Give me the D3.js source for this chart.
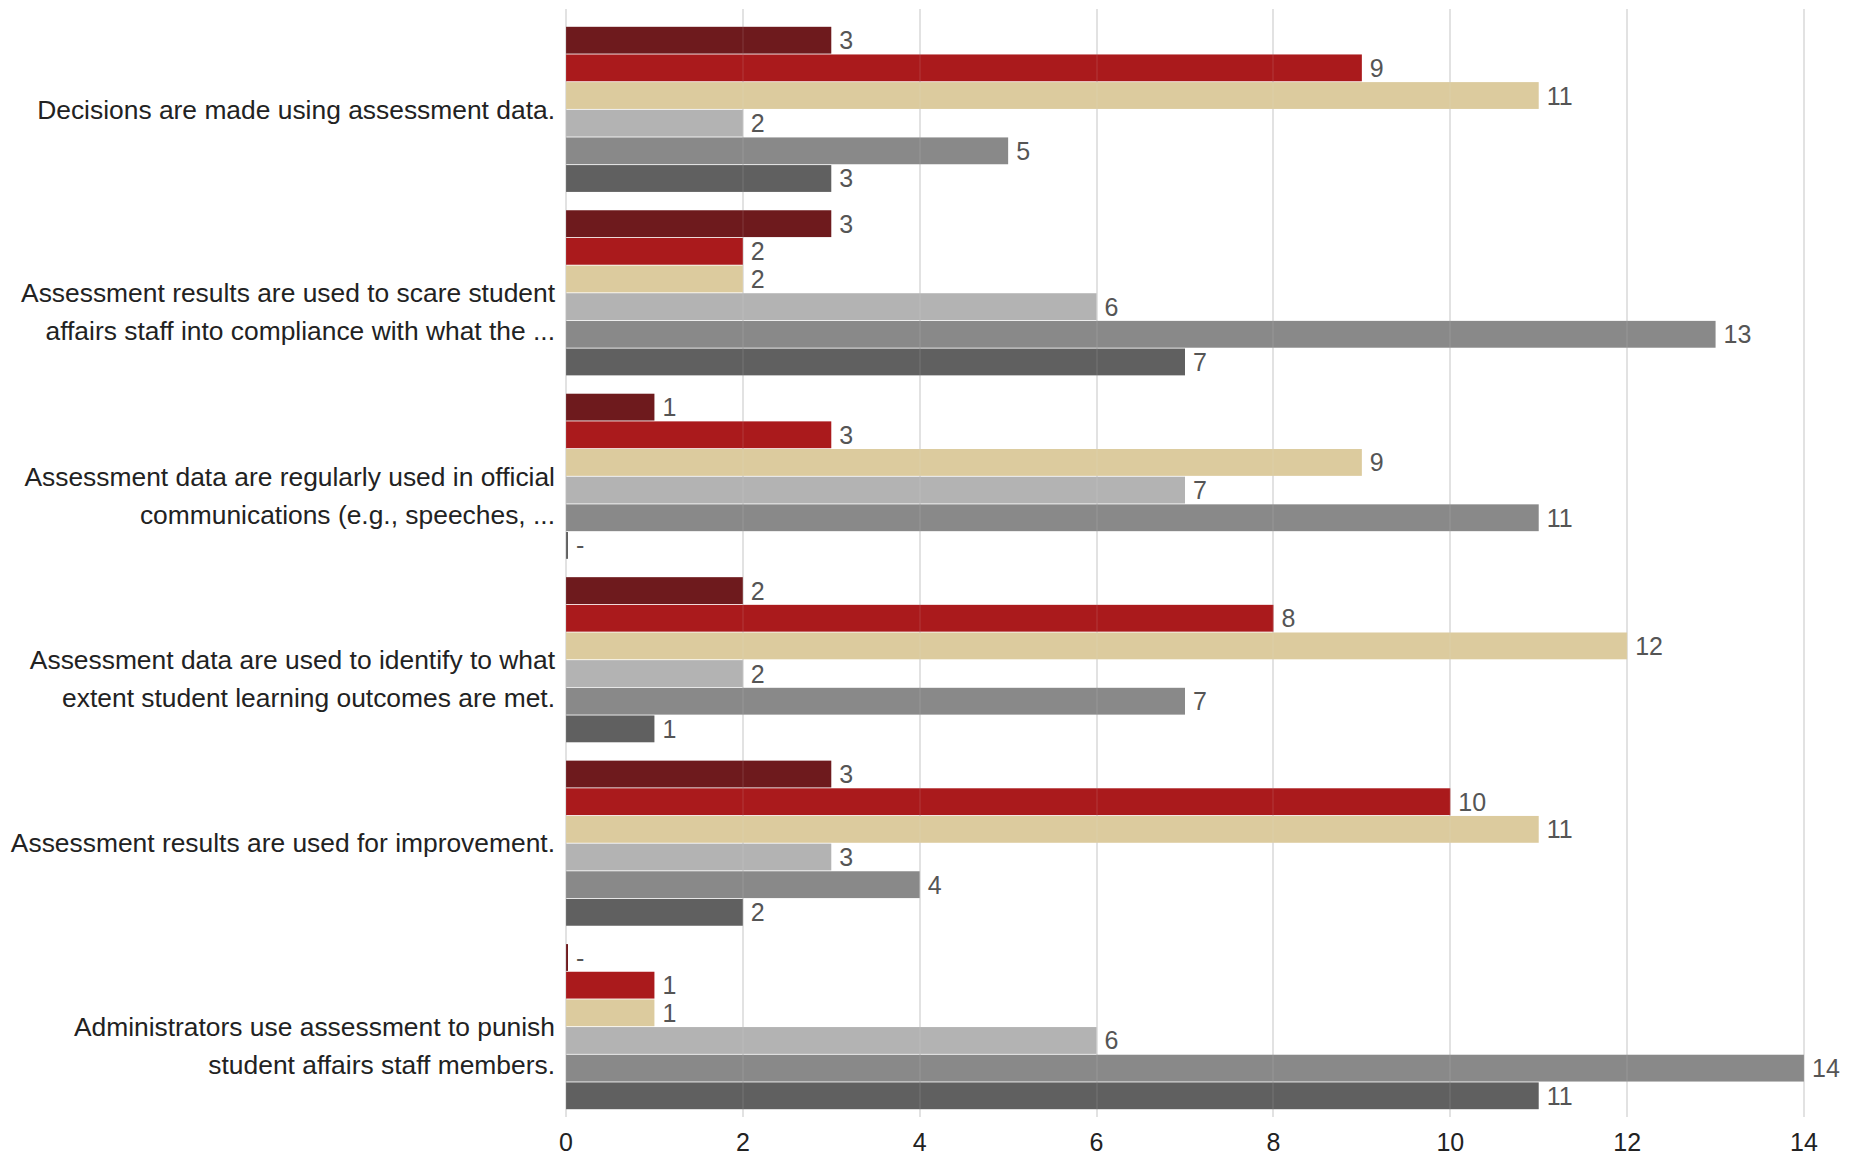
<!DOCTYPE html>
<html lang="en">
  <head>
    <meta charset="UTF-8" />
    <style>
      body {
        margin: 0;
        background: #fff;
      }
      svg {
        font-family: "Liberation Sans", Arial, sans-serif;
      }
      .grid line {
        stroke: #e2e2e2;
        stroke-width: 2;
        shape-rendering: crispEdges;
      }
      .grid-over line {
        stroke: rgba(226, 226, 226, 0.08);
        stroke-width: 2;
        shape-rendering: crispEdges;
      }
      .cat-label {
        font-size: 26.4px;
        fill: #222;
      }
      .val-label {
        font-size: 25px;
        fill: #555;
      }
      .tick-label {
        font-size: 25px;
        fill: #222;
      }
    </style>
    <script src="https://d3js.org/d3.v7.min.js"></script>
    <title>Assessment chart</title>
  </head>
  <body>
    <script>
      // categories, top to bottom (\n marks the line break used in the picture)
      var categories = [
        "Decisions are made using assessment data.",
        "Assessment results are used to scare student\naffairs staff into compliance with what the ...",
        "Assessment data are regularly used in official\ncommunications (e.g., speeches, ...",
        "Assessment data are used to identify to what\nextent student learning outcomes are met.",
        "Assessment results are used for improvement.",
        "Administrators use assessment to punish\nstudent affairs staff members."
      ];

      // one array per response series, same order as categories
      var series1 = [3, 3, 1, 2, 3, 0];
      var series2 = [9, 2, 3, 8, 10, 1];
      var series3 = [11, 2, 9, 12, 11, 1];
      var series4 = [2, 6, 7, 2, 3, 6];
      var series5 = [5, 13, 11, 7, 4, 14];
      var series6 = [3, 7, 0, 1, 2, 11];

      var xTicks = [0, 2, 4, 6, 8, 10, 12, 14];

      var seriesList = [series1, series2, series3, series4, series5, series6];
      var colors = ["#6e1a1d", "#aa1a1c", "#dccb9e", "#b3b3b3", "#898989", "#606060"];

      var width = 1864,
        height = 1155;

      var svg = d3
        .select("body")
        .append("svg")
        .attr("width", width)
        .attr("height", height);

      var x = d3.scaleLinear().domain([0, 14]).range([566, 1804]);

      var y = d3
        .scaleBand()
        .domain(d3.range(categories.length))
        .range([9, 1127])
        .paddingInner(0.1)
        .paddingOuter(0.097);

      var ySub = d3
        .scaleBand()
        .domain(d3.range(seriesList.length))
        .range([0, y.bandwidth()])
        .paddingInner(0.03);

      function drawGrid(cls) {
        svg
          .append("g")
          .attr("class", cls)
          .selectAll("line")
          .data(xTicks)
          .enter()
          .append("line")
          .attr("x1", function (d) {
            return Math.round(x(d));
          })
          .attr("x2", function (d) {
            return Math.round(x(d));
          })
          .attr("y1", 9)
          .attr("y2", 1117);
      }

      // gridlines behind the bars
      drawGrid("grid");

      // tick labels
      svg
        .append("g")
        .selectAll("text")
        .data(xTicks)
        .enter()
        .append("text")
        .attr("class", "tick-label")
        .attr("x", function (d) {
          return x(d);
        })
        .attr("y", 1142)
        .attr("dy", "0.35em")
        .attr("text-anchor", "middle")
        .text(function (d) {
          return d;
        });

      // flatten into bar records
      var bars = [];
      categories.forEach(function (c, ci) {
        seriesList.forEach(function (s, si) {
          bars.push({ cat: ci, ser: si, value: s[ci] });
        });
      });

      var groups = svg.append("g");

      groups
        .selectAll("rect")
        .data(bars)
        .enter()
        .append("rect")
        .attr("x", x(0))
        .attr("y", function (d) {
          return y(d.cat) + ySub(d.ser);
        })
        .attr("width", function (d) {
          return Math.max(x(d.value) - x(0), 2);
        })
        .attr("height", ySub.bandwidth())
        .style("fill", function (d) {
          return colors[d.ser];
        });

      // faint gridlines showing through the bars
      drawGrid("grid-over");

      groups
        .selectAll("text")
        .data(bars)
        .enter()
        .append("text")
        .attr("class", "val-label")
        .attr("x", function (d) {
          return Math.max(x(d.value), x(0) + 2) + 8;
        })
        .attr("y", function (d) {
          return y(d.cat) + ySub(d.ser) + ySub.bandwidth() / 2;
        })
        .attr("dy", "0.36em")
        .text(function (d) {
          return d.value === 0 ? "-" : d.value;
        });

      // category labels, first line centred on the group
      var labels = svg
        .append("g")
        .selectAll("text")
        .data(categories)
        .enter()
        .append("text")
        .attr("class", "cat-label")
        .attr("text-anchor", "end")
        .attr("y", function (d, i) {
          return y(i) + y.bandwidth() / 2;
        });

      labels
        .selectAll("tspan")
        .data(function (d) {
          return d.split("\n");
        })
        .enter()
        .append("tspan")
        .attr("x", 555)
        .attr("dy", function (d, i) {
          return i === 0 ? "0.35em" : "38px";
        })
        .text(function (d) {
          return d;
        });
    </script>
  </body>
</html>
